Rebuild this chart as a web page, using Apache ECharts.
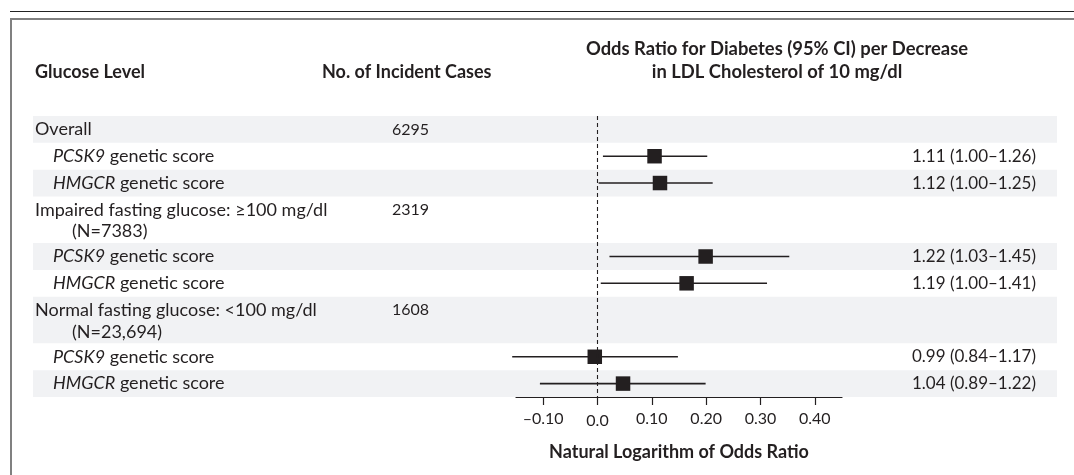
<!DOCTYPE html>
<html><head><meta charset="utf-8">
<script src="https://cdn.jsdelivr.net/npm/echarts@6/dist/echarts.min.js"></script>
<style>html,body{margin:0;padding:0;background:#fff}#c{width:1074px;height:475px}</style>
</head><body><div id="c"></div>
<script>
// ---------------- data ----------------
const groupLabels = ['Overall', 'Impaired fasting glucose: \u2265100 mg/dl', 'Normal fasting glucose: <100 mg/dl'];
const groupSizes = ['', '(N=7383)', '(N=23,694)'];
const incidentCases = ['6295', '2319', '1608'];
const scoreGenes = ['PCSK9', 'HMGCR'];
// natural logarithm of odds ratio, per group: [PCSK9, HMGCR]
const logOR   = [[0.105, 0.115], [0.199, 0.164], [-0.005, 0.047]];
const logLow  = [[0.010, 0.002], [0.022, 0.006], [-0.157, -0.106]];
const logHigh = [[0.202, 0.212], [0.353, 0.312], [0.148, 0.199]];
const orLabels = [
  ['1.11 (1.00\u20131.26)', '1.12 (1.00\u20131.25)'],
  ['1.22 (1.03\u20131.45)', '1.19 (1.00\u20131.41)'],
  ['0.99 (0.84\u20131.17)', '1.04 (0.89\u20131.22)']
];
const xTicks = [-0.1, 0, 0.1, 0.2, 0.3, 0.4];
const xTickLabels = ['\u20130.10', '0.0', '0.10', '0.20', '0.30', '0.40'];
const headers = {
  label: 'Glucose Level',
  cases: 'No. of Incident Cases',
  effect: 'Odds Ratio for Diabetes (95% CI) per Decrease\nin LDL Cholesterol of 10 mg/dl',
  axis: 'Natural Logarithm of Odds Ratio'
};

// ---------------- layout ----------------
const FONT = 'Lato, "Open Sans", sans-serif';
const INK = '#231f20';
const BAND = '#f1f2f4';
const DOUBLE_ROW = 1.74;
const rows = [];
let acc = 0;
groupLabels.forEach((g, gi) => {
  const h = groupSizes[gi] ? DOUBLE_ROW : 1;
  rows.push({ type: 'group', g: gi, top: acc, h: h });
  acc += h;
  scoreGenes.forEach((gene, k) => {
    rows.push({ type: 'score', g: gi, k: k, top: acc, h: 1 });
    acc += 1;
  });
});
const totalRows = acc;

const tableData = rows.map((r, i) => [0, r.top, r.h, i]);
const forestData = [];
rows.forEach(r => {
  if (r.type === 'score') {
    forestData.push([logLow[r.g][r.k], logHigh[r.g][r.k], logOR[r.g][r.k], r.top + r.h / 2]);
  }
});

const GRID_TOP = 116, GRID_H = 281;

const chart = echarts.init(document.getElementById('c'), null, { renderer: 'canvas' });
chart.setOption({
  animation: false,
  backgroundColor: '#fff',
  textStyle: { fontFamily: FONT },
  grid: [
    { left: 33, width: 1024, top: GRID_TOP, height: GRID_H },
    { left: 516, width: 326, top: GRID_TOP, height: GRID_H }
  ],
  xAxis: [
    { gridIndex: 0, type: 'value', min: 0, max: 1, show: false },
    {
      gridIndex: 1, type: 'value', min: -0.15, max: 0.45,
      axisLine: { show: true, onZero: false, lineStyle: { color: INK, width: 1.2 } },
      axisTick: { show: true, customValues: xTicks, length: 8, lineStyle: { color: INK, width: 1.2 } },
      axisLabel: {
        show: true, customValues: xTicks, margin: 14,
        color: INK, fontFamily: FONT, fontSize: 16,
        formatter: v => {
          const i = xTicks.findIndex(t => Math.abs(t - v) < 1e-9);
          if (i < 0) return '';
          return xTicks[i] === 0 ? '{z|' + xTickLabels[i] + '}' : xTickLabels[i];
        },
        rich: { z: { fontFamily: FONT, fontSize: 16, color: INK, padding: [2, 0, 0, 0] } }
      },
      splitLine: { show: false },
      name: headers.axis, nameLocation: 'middle', nameGap: 46,
      nameTextStyle: { color: INK, fontFamily: FONT, fontSize: 18, fontWeight: 'bold' }
    }
  ],
  yAxis: [
    { gridIndex: 0, type: 'value', min: 0, max: totalRows, inverse: true, show: false },
    { gridIndex: 1, type: 'value', min: 0, max: totalRows, inverse: true, show: false }
  ],
  graphic: [
    { type: 'line', shape: { x1: 10, y1: 11.5, x2: 1074, y2: 11.5 }, style: { stroke: '#222', lineWidth: 1.2 }, silent: true },
    { type: 'line', shape: { x1: 10, y1: 19, x2: 1074, y2: 19 }, style: { stroke: '#808080', lineWidth: 2 }, silent: true },
    { type: 'line', shape: { x1: 11, y1: 18, x2: 11, y2: 475 }, style: { stroke: '#808080', lineWidth: 2 }, silent: true },
    { type: 'text', x: 35, y: 72, style: { text: headers.label, font: 'bold 18px ' + FONT, fill: INK, verticalAlign: 'middle' } },
    { type: 'text', x: 322, y: 72, style: { text: headers.cases, font: 'bold 18px ' + FONT, fill: INK, verticalAlign: 'middle' } },
    { type: 'text', x: 777, y: 60.5, style: { text: headers.effect, font: 'bold 18.4px ' + FONT, fill: INK, align: 'center', verticalAlign: 'middle', lineHeight: 23 } }
  ],
  series: [
    {
      type: 'custom', name: 'table', xAxisIndex: 0, yAxisIndex: 0, silent: true, z: 1,
      data: tableData,
      renderItem: (params, api) => {
        const i = api.value(3);
        const r = rows[i];
        const topY = api.coord([0, api.value(1)])[1];
        const botY = api.coord([0, api.value(1) + api.value(2)])[1];
        const unit = api.size([0, 1])[1];
        const x0 = params.coordSys.x, w = params.coordSys.width;
        const children = [];
        if (i % 2 === 0) {
          children.push({ type: 'rect', shape: { x: x0, y: topY, width: w, height: botY - topY }, style: { fill: BAND } });
        }
        const base = { font: '18px ' + FONT, fill: INK, verticalAlign: 'middle' };
        const y1 = topY + 0.5 * unit;
        if (r.type === 'group') {
          children.push({ type: 'text', x: x0 + 2, y: y1, style: Object.assign({ text: groupLabels[r.g] }, base) });
          if (groupSizes[r.g]) {
            children.push({ type: 'text', x: x0 + 39, y: topY + 1.31 * unit, style: Object.assign({ text: groupSizes[r.g] }, base) });
          }
          children.push({ type: 'text', x: 392, y: y1, style: Object.assign({}, base, { text: incidentCases[r.g], font: '16px ' + FONT }) });
        } else {
          children.push({ type: 'text', x: x0 + 20, y: y1, style: Object.assign({
            text: '{i|' + scoreGenes[r.k] + '} genetic score',
            rich: { i: { fontStyle: 'italic', fontFamily: FONT, fontSize: 18, fill: INK } }
          }, base) });
          children.push({ type: 'text', x: 1036, y: y1, style: Object.assign({}, base, { text: orLabels[r.g][r.k], align: 'right', font: '17px ' + FONT }) });
        }
        return { type: 'group', children: children };
      }
    },
    {
      type: 'custom', name: 'forest', xAxisIndex: 1, yAxisIndex: 1, silent: true, z: 3,
      data: forestData,
      renderItem: (params, api) => {
        const yv = api.value(3);
        const pl = api.coord([api.value(0), yv]);
        const ph = api.coord([api.value(1), yv]);
        const pc = api.coord([api.value(2), yv]);
        const s = 14.5;
        return {
          type: 'group',
          children: [
            { type: 'line', shape: { x1: pl[0], y1: pl[1], x2: ph[0], y2: ph[1] }, style: { stroke: INK, lineWidth: 1.6 } },
            { type: 'rect', shape: { x: pc[0] - s / 2, y: pc[1] - s / 2, width: s, height: s }, style: { fill: INK } }
          ]
        };
      },
      markLine: {
        silent: true, symbol: 'none',
        label: { show: false },
        lineStyle: { color: INK, type: [4, 3], width: 1.1 },
        data: [{ xAxis: 0 }]
      }
    }
  ]
});
</script></body></html>
